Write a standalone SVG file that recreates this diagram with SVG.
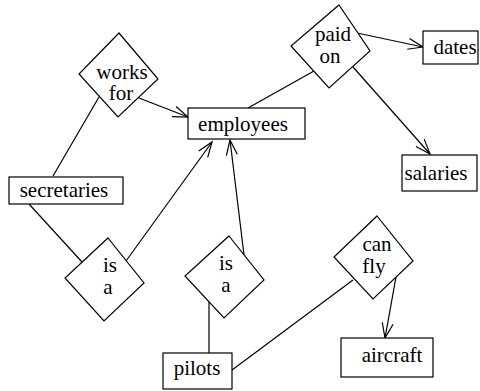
<svg xmlns="http://www.w3.org/2000/svg" width="480" height="391" viewBox="0 0 480 391">
  <style>
    .box { fill: #fff; stroke: #000; stroke-width: 1.2; }
    .rel { fill: #fff; stroke: #000; stroke-width: 1.2; }
    .lbl { font-size: 21px; fill: #000; text-anchor: middle; }
    .edge { fill: none; stroke: #000; stroke-width: 1.2; }
    .arrow { marker-end: url(#head); }
  </style>
  <defs>
    <marker id="head" markerWidth="18" markerHeight="12" refX="16" refY="6" orient="auto" markerUnits="userSpaceOnUse" overflow="visible">
      <path d="M1,0.5 L16,6 L1,11.5" fill="none" stroke="#000" stroke-width="1.2"/>
    </marker>
  </defs>
  <rect width="480" height="391" fill="#fff"/>

  <!-- connectors -->
  <g id="connectors">
    <line class="edge arrow" x1="139" y1="98" x2="188" y2="117"/>
    <line class="edge" x1="99" y1="97" x2="53" y2="176"/>
    <line class="edge" x1="29" y1="204" x2="82" y2="262"/>
    <line class="edge arrow" x1="126" y1="261" x2="212" y2="142"/>
    <line class="edge arrow" x1="244" y1="255" x2="230" y2="140"/>
    <line class="edge" x1="209" y1="302" x2="209" y2="353"/>
    <line class="edge" x1="232" y1="370" x2="353" y2="280"/>
    <line class="edge arrow" x1="396" y1="277" x2="385" y2="338"/>
    <line class="edge" x1="248" y1="108" x2="314" y2="71"/>
    <line class="edge arrow" x1="357" y1="33" x2="423" y2="47"/>
    <line class="edge arrow" x1="353" y1="67" x2="430" y2="154"/>
  </g>

  <g font-family="Liberation Serif, Times New Roman, DejaVu Serif, serif">
  <!-- entities -->
  <g id="employees">
    <rect class="box" x="188" y="108" width="117" height="31"/>
    <text class="lbl" x="243" y="131">employees</text>
  </g>
  <g id="secretaries">
    <rect class="box" x="9" y="177" width="114" height="27"/>
    <text class="lbl" x="64" y="197">secretaries</text>
  </g>
  <g id="pilots">
    <rect class="box" x="163" y="353" width="69" height="36"/>
    <text class="lbl" x="197" y="375">pilots</text>
  </g>
  <g id="aircraft">
    <rect class="box" x="341" y="338" width="92" height="39"/>
    <text class="lbl" x="392" y="362">aircraft</text>
  </g>
  <g id="dates">
    <rect class="box" x="423" y="31" width="55" height="33"/>
    <text class="lbl" x="455" y="54">dates</text>
  </g>
  <g id="salaries">
    <rect class="box" x="402" y="155" width="75" height="36"/>
    <text class="lbl" x="436" y="180">salaries</text>
  </g>

  <!-- relationships -->
  <g id="works-for">
    <polygon class="rel" points="119,33 158,79 118,117 79,74"/>
    <text class="lbl" x="122" y="79">works</text>
    <text class="lbl" x="121" y="100">for</text>
  </g>
  <g id="is-a-secretaries">
    <polygon class="rel" points="108,238 144,283 104,321 65,278"/>
    <text class="lbl" x="110" y="272">is</text>
    <text class="lbl" x="108" y="294">a</text>
  </g>
  <g id="is-a-pilots">
    <polygon class="rel" points="229,236 264,280 224,318 185,276"/>
    <text class="lbl" x="226" y="270">is</text>
    <text class="lbl" x="226" y="292">a</text>
  </g>
  <g id="can-fly">
    <polygon class="rel" points="377,216 413,261 373,299 334,257"/>
    <text class="lbl" x="377" y="251">can</text>
    <text class="lbl" x="374" y="273">fly</text>
  </g>
  <g id="paid-on">
    <polygon class="rel" points="339,5 370,51 329,88 291,46"/>
    <text class="lbl" x="333" y="41">paid</text>
    <text class="lbl" x="330" y="63">on</text>
  </g>
  </g>
</svg>
